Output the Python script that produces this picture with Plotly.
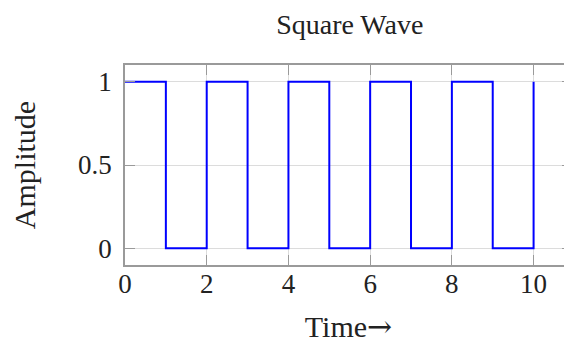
import plotly.graph_objects as go

# square wave samples (step plot, value held until next time)
time = [0, 1, 2, 3, 4, 5, 6, 7, 8, 9, 10]
amplitude = [1, 0, 1, 0, 1, 0, 1, 0, 1, 0, 1]

x_ticks = [0, 2, 4, 6, 8, 10]
y_ticks = [0, 0.5, 1]
y_tick_labels = ["0", "0.5", "1"]

FONT = "Liberation Serif"
FRAME = "#9a9a9a"
GRID = "#dcdcdc"

fig = go.Figure()
fig.add_trace(go.Scatter(
    x=time,
    y=amplitude,
    mode="lines",
    line=dict(color="#0000ff", width=2, shape="hv"),
    showlegend=False,
))
# invisible trace so the right-hand ticks get their own axis
fig.add_trace(go.Scatter(
    x=time, y=amplitude, yaxis="y2", mode="lines",
    line=dict(width=0), hoverinfo="skip", showlegend=False,
))

# page body adds an 8px offset, so the figure is sized 8px smaller
fig.update_layout(
    width=564,
    height=337,
    margin=dict(l=117, r=0, t=57, b=80, autoexpand=False),
    paper_bgcolor="white",
    plot_bgcolor="white",
    font=dict(family=FONT, color="#222222", size=27),
    title=dict(text="Square Wave", x=0.606, xanchor="center",
               y=0.952, yanchor="middle", font=dict(size=28)),
    xaxis=dict(
        range=[0, 10.94],
        tickvals=x_ticks,
        ticks="inside", ticklen=10, tickcolor=FRAME,
        ticklabelstandoff=-6,
        showline=True, linecolor=FRAME, linewidth=1.5, mirror="ticks",
        showgrid=True, gridcolor=GRID, gridwidth=1,
        zeroline=False, automargin=False,
        title=dict(text="Time<span style='font-family:DejaVu Serif'>→</span>",
                   standoff=18, font=dict(size=30)),
    ),
    yaxis=dict(
        range=[-0.1, 1.1],
        tickvals=y_ticks, ticktext=y_tick_labels,
        ticks="inside", ticklen=10, tickcolor=FRAME,
        ticklabelstandoff=6,
        showline=True, linecolor=FRAME, linewidth=1.5,
        showgrid=True, gridcolor=GRID, gridwidth=1,
        zeroline=False, automargin=False,
        title=dict(text="Amplitude", standoff=34, font=dict(size=30)),
    ),
    yaxis2=dict(
        range=[-0.1, 1.1], overlaying="y", side="right",
        tickvals=y_ticks, showticklabels=False,
        ticks="inside", ticklen=10, tickcolor=FRAME,
        showline=False, showgrid=False, zeroline=False, automargin=False,
    ),
)

fig.write_html("out.html")
